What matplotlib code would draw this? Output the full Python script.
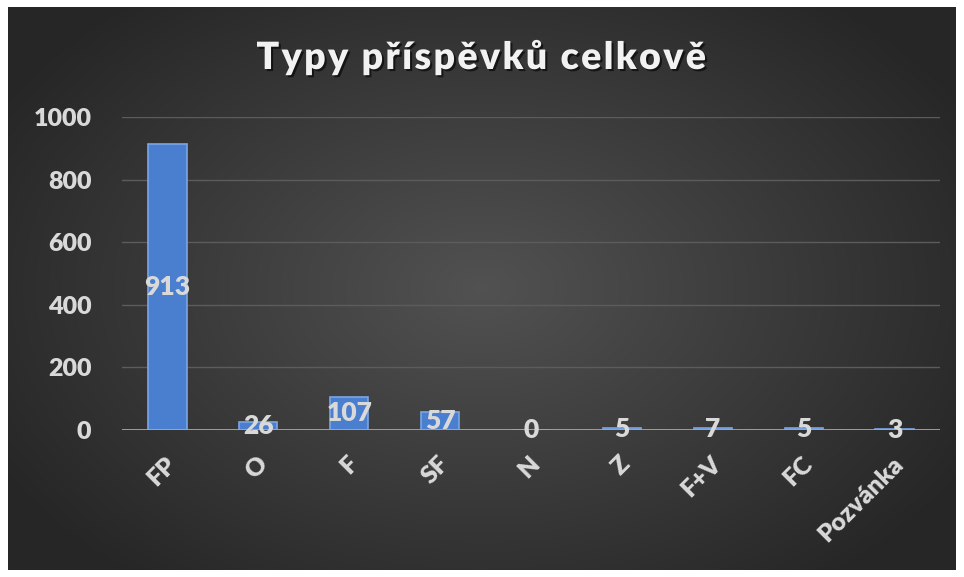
import numpy as np
import matplotlib.pyplot as plt
import matplotlib.patheffects as pe
from matplotlib.transforms import ScaledTranslation

categories = ["FP", "O", "F", "SF", "N", "Z", "F+V", "FC", "Pozvánka"]
values = [913, 26, 107, 57, 0, 5, 7, 5, 3]
yticks = [0, 200, 400, 600, 800, 1000]
title = "Typy příspěvků celkově"

plt.rcParams["font.family"] = ["Lato", "DejaVu Sans"]

fig = plt.figure(figsize=(9.64, 5.77), dpi=100)
fig.patch.set_facecolor("white")

# dark radial gradient background inside a thin white border
bg = fig.add_axes([8 / 964, 7 / 577, 948 / 964, 563 / 577])
yy, xx = np.mgrid[-1:1:300j, -1:1:500j]
r = np.sqrt((xx * 0.9) ** 2 + (yy * 0.8) ** 2)
shade = np.clip(0.32 - 0.16 * r, 0.15, 0.32)
bg.imshow(np.dstack([shade] * 3), aspect="auto", extent=[0, 1, 0, 1])
bg.set_axis_off()

ax = fig.add_axes([122 / 964, 1 - 430 / 577, 818 / 964, 313 / 577])
ax.set_facecolor("none")

x = np.arange(len(categories))
ax.bar(x, values, width=0.42, color="#4a7fcf", edgecolor="#7aa6e6",
       linewidth=1.2, zorder=3)

for xi, v in zip(x, values):
    ax.text(xi, v / 2, str(v), ha="center", va="center", fontsize=19,
            fontweight="heavy", color="#d9d9d9", zorder=6)

ax.set_xlim(-0.5, len(categories) - 0.5)
ax.set_ylim(0, 1000)
ax.set_yticks(yticks)
ax.set_xticks(x)
ax.set_xticklabels(categories, rotation=45, ha="right", va="center",
                   rotation_mode="anchor")
ax.tick_params(axis="both", length=0, labelsize=18, colors="#d9d9d9")
ax.tick_params(axis="y", pad=22)
ax.tick_params(axis="x", pad=22)
shift = ScaledTranslation(5 / 100, 0, fig.dpi_scale_trans)
for lab in ax.get_xticklabels():
    lab.set_fontweight("heavy")
    lab.set_transform(lab.get_transform() + shift)
for lab in ax.get_yticklabels():
    lab.set_fontweight("heavy")

ax.grid(axis="y", color="#5c5c5c", linewidth=1, zorder=0)
ax.axhline(0, color="#a6a6a6", linewidth=2, zorder=5)
for s in ax.spines.values():
    s.set_visible(False)

fig.text(0.5, 1 - 57 / 577, "\u200a".join(title), ha="center", va="center",
         fontsize=27, fontweight="heavy", color="#f2f2f2",
         path_effects=[pe.withSimplePatchShadow(offset=(1.5, -1.5),
                                                shadow_rgbFace="black", alpha=0.6)])

fig.savefig("out.png", dpi=100)
